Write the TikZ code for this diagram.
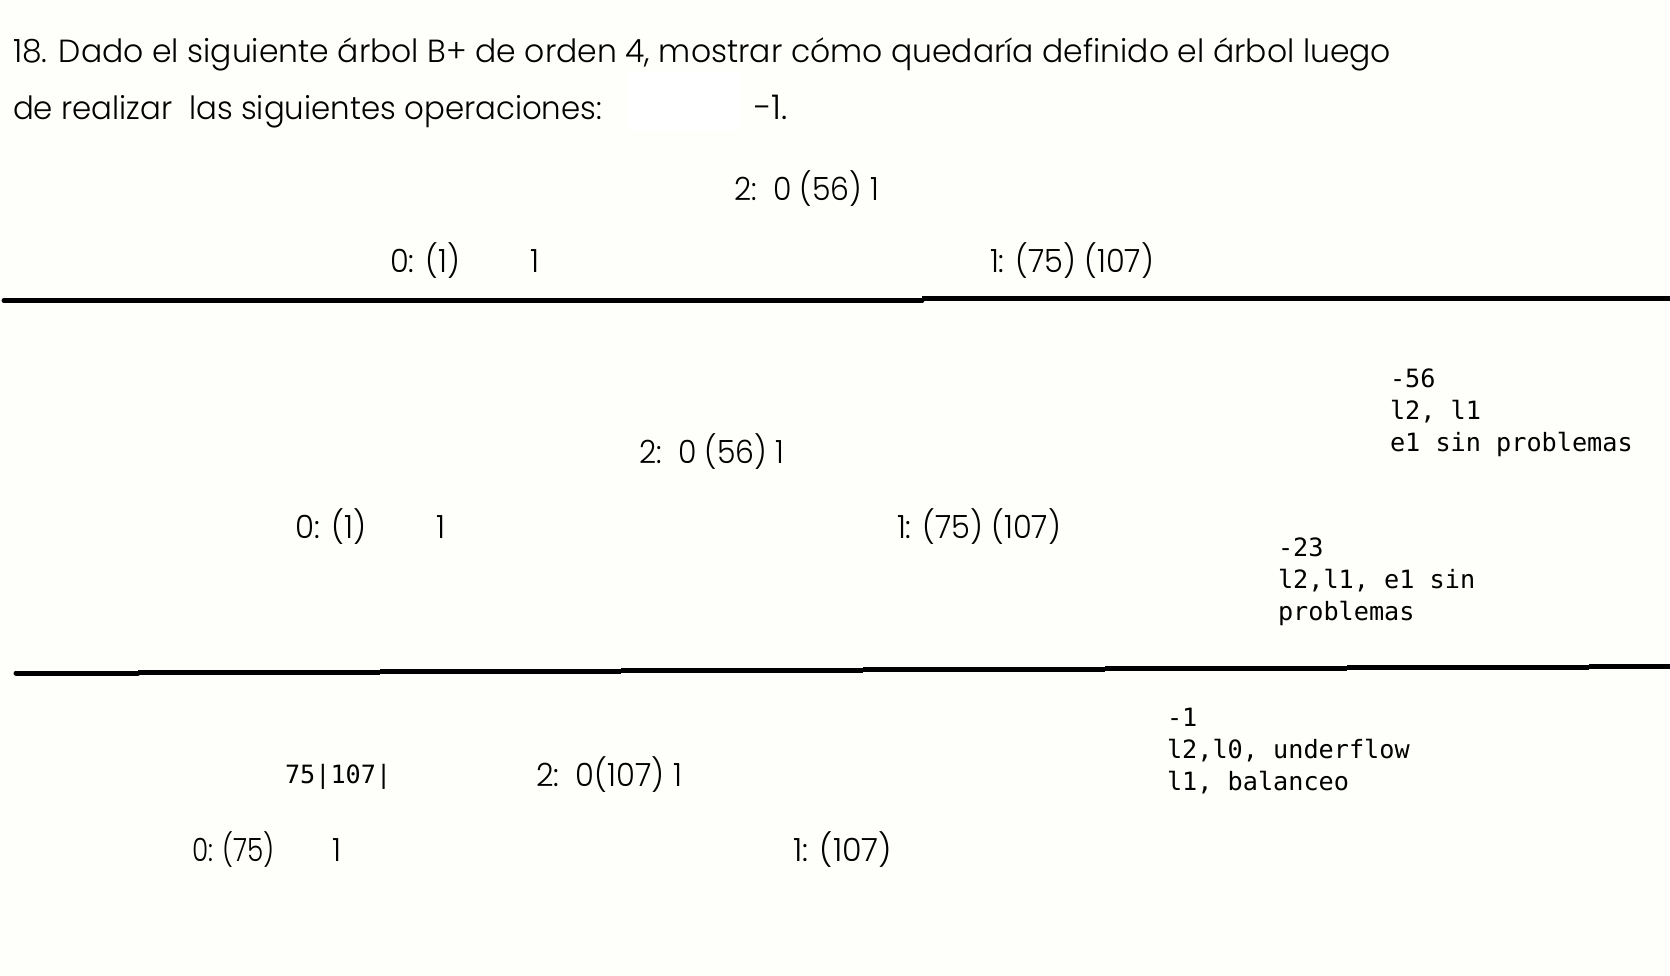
\documentclass[tikz,border=0pt]{standalone}
\usepackage{fontspec}
\usepackage{graphicx}
\IfFontExistsTF{Poppins Light}{\setmainfont{Poppins Light}}{\setmainfont{Poppins}}
\newfontfamily\monof{DejaVu Sans Mono}
\definecolor{paper}{RGB}{254,254,250}
\newcommand\gw[2]{\resizebox{#1pt}{\height}{\fontsize{32}{38}\selectfont #2}}
\tikzset{
  txt/.style={anchor=base west, inner sep=0pt, outer sep=0pt},
  mono/.style={txt, font=\monof\fontsize{25.2}{30}\selectfont},
  sep/.style={line width=5pt, black}
}
\begin{document}
\begin{tikzpicture}[x=1pt,y=-1pt]
\fill[paper] (0,0) rectangle (1670,976);
\useasboundingbox (0,0) rectangle (1670,976);
% white patch
\fill[white] (628,72) rectangle (742,130);
% title
\node[txt] (t1) at (13,63) {\gw{1378}{18. Dado el siguiente árbol B+ de orden 4, mostrar cómo quedaría definido el árbol luego}};
\node[txt] (t2) at (13,120) {\gw{589}{de realizar\ \ las siguientes operaciones:}};
\node[txt, font=\fontsize{34}{40}\selectfont] (ops) at (754,120) {-1.};
% row 1
\node[txt] (aroot) at (734,201) {\gw{145}{2:\ \ 0 (56) 1}};
\node[txt] (aleft) at (390,273) {\gw{70}{0: (1)}};
\node[txt] (aleftp) at (530,273) {\gw{9}{1}};
\node[txt] (aright) at (990,273) {\gw{164}{1: (75) (107)}};
\draw[sep, line cap=round] (4,300.5) -- (922,300.5);
\draw[sep] (922,298.5) -- (1670,298.5);
% row 2
\node[txt] (broot) at (639,463) {\gw{145}{2:\ \ 0 (56) 1}};
\node[txt] (bleft) at (295,538) {\gw{71}{0: (1)}};
\node[txt] (bleftp) at (436,538) {\gw{9}{1}};
\node[txt] (bright) at (897,538) {\gw{164}{1: (75) (107)}};
\node[mono] (n56a) at (1390,387) {-56};
\node[mono] (n56b) at (1390,419) {l2, l1};
\node[mono] (n56c) at (1390,451) {e1 sin problemas};
\node[mono] (n23a) at (1278,556) {-23};
\node[mono] (n23b) at (1278,588) {l2,l1, e1 sin};
\node[mono] (n23c) at (1278,620) {problemas};
\draw[sep, line cap=round] (16,673) -- (138,673);
\draw[sep] (138,672) -- (380,672);
\draw[sep] (380,671) -- (621,671);
\draw[sep] (621,670) -- (863,670);
\draw[sep] (863,669) -- (1105,669);
\draw[sep] (1105,668) -- (1347,668);
\draw[sep] (1347,667) -- (1589,667);
\draw[sep] (1589,666) -- (1670,666);
% row 3
\node[mono] (keys) at (285,783) {75|107|};
\node[txt] (croot) at (536,786) {\gw{146}{2:\ \ 0(107) 1}};
\node[txt] (cleft) at (192,861) {\gw{83}{0: (75)}};
\node[txt] (cleftp) at (332,861) {\gw{9}{1}};
\node[txt] (cright) at (793,861) {\gw{99}{1: (107)}};
\node[mono] (n1a) at (1167,726) {-1};
\node[mono] (n1b) at (1167,758) {l2,l0, underflow};
\node[mono] (n1c) at (1167,790) {l1, balanceo};
\end{tikzpicture}
\end{document}
